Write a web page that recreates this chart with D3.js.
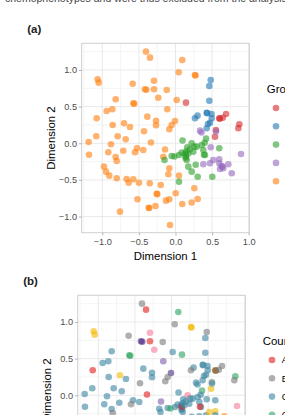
<!DOCTYPE html>
<html>
<head>
<meta charset="utf-8">
<script src="https://cdnjs.cloudflare.com/ajax/libs/d3/7.8.5/d3.min.js"></script>
<style>
html,body{margin:0;padding:0;background:#fff;overflow:hidden;}
svg{display:block;font-family:"Liberation Sans",Arial,sans-serif;}
</style>
</head>
<body>
<svg id="chart" width="285" height="415"></svg>
<script>
// ---------------- data ----------------
const dim1 = [
 -0.403,-0.348,-1.063,-1.049,-0.585,-0.417,-0.399,-0.294,-0.294,-0.120,
 -0.235,-0.817,-0.576,-0.563,-0.940,-0.863,-0.385,-0.112,-1.076,-0.858,
 -0.703,-0.622,-0.266,-0.266,-0.430,-1.082,-0.790,-0.007,-0.052,-0.085,
 -0.680,-1.186,-0.881,-0.335,-1.182,-0.918,-0.817,-0.803,-0.713,-0.526,
 -0.553,-0.440,-0.143,-0.167,-0.977,-0.949,-0.904,-0.803,-0.667,-0.639,
 -0.576,-0.499,-0.352,-0.202,-0.257,-0.249,-0.085,-0.098,0.048,0.257,
 0.003,-0.519,-0.130,-0.085,0.093,0.221,0.303,-0.366,-0.358,-0.273,
 -0.758,-0.075,0.093,0.044,0.266,0.273,0.016,
 0.481,0.462,0.462,0.426,0.433,0.492,0.301,0.266,0.495,0.471,0.444,0.426,
 0.143,0.690,0.598,0.605,0.645,0.872,0.858,0.553,0.540,
 0.335,0.355,0.553,0.481,0.380,0.471,0.516,0.598,0.598,0.631,0.639,0.608,0.653,0.721,0.768,0.895,
 0.096,0.221,0.417,0.399,0.290,0.161,0.598,0.130,0.143,0.153,0.137,0.085,0.198,0.243,-0.052,
 0.048,-0.150,0.276,0.175,0.221,0.303,0.048,0.503,0.358,0.380,0.403,0.139,0.389,0.257,-0.014,
 0.150,0.175
];
const dim2 = [
 1.250,1.168,0.873,0.827,0.813,0.737,0.730,0.854,0.737,0.727,
 0.622,0.600,0.546,0.539,0.441,0.464,0.363,0.464,0.341,0.250,
 0.273,0.222,0.308,0.246,0.164,0.096,0.096,0.304,0.250,0.191,
 0.055,0.018,-0.014,0.011,-0.156,-0.123,-0.187,-0.241,-0.101,-0.068,
 -0.123,-0.091,-0.085,-0.183,-0.319,-0.387,-0.442,-0.478,-0.487,-0.538,
 -0.491,-0.538,-0.546,-0.569,-0.688,-0.694,-0.341,-0.423,-0.442,-0.614,
 -0.682,-0.764,-0.783,-0.764,-0.828,-0.808,-0.760,-0.879,-0.883,-0.855,
 -0.933,-1.115,1.136,0.969,0.932,0.925,0.591,
 0.864,0.782,0.581,0.417,0.411,0.400,0.377,0.341,0.341,0.281,0.263,0.205,
 0.554,0.400,0.341,0.334,0.349,0.259,0.205,0.181,0.090,
 0.172,0.147,0.161,-0.055,-0.287,-0.273,-0.228,-0.218,-0.273,-0.310,-0.317,-0.351,-0.341,-0.287,-0.409,-0.146,
 0.038,0.000,0.063,0.008,-0.046,-0.055,-0.068,-0.136,-0.183,-0.228,-0.201,-0.128,-0.082,-0.115,-0.173,
 -0.160,-0.228,-0.292,-0.319,-0.387,-0.456,-0.524,-0.456,-0.023,-0.091,-0.160,-0.156,-0.156,-0.046,-0.180,
 -0.110,-0.140
];
const group = [].concat(
 Array(77).fill("E"), Array(12).fill("B"), Array(9).fill("A"),
 Array(16).fill("D"), Array(32).fill("C")
);
const country = [
 "Brazil","Argentina","Germany","Germany","Brazil","Japan","Japan","Italy","Argentina","Brazil",
 "Italy","Canada","Chile","Chile","Canada","Canada","Canada","Mexico","Argentina","Canada",
 "Germany","Canada","Canada","Canada","Brazil","Canada","Canada","Japan","Brazil","Brazil",
 "Canada","Canada","Canada","Argentina","Canada","Canada","Canada","Brazil","Canada","Canada",
 "Brazil","Canada","Mexico","Canada","Canada","Canada","Brazil","Canada","Canada","Canada",
 "Canada","Spain","Canada","Canada","Canada","Canada","Canada","Brazil","Canada","Canada",
 "Canada","Canada","Germany","Canada","Canada","Canada","Canada","Canada","Brazil","Canada",
 "Canada","Canada","Chile","Brazil","Germany","Germany","Canada",
 "Brazil","Canada","Canada","Canada","Canada","Canada","Canada","Brazil","Canada","Canada","Canada","Canada",
 "Chile","Brazil","Peru","Peru","Brazil","Chile","Brazil","France","Germany",
 "Canada","Canada","Canada","Canada","Canada","Canada","Germany","Germany","Canada","Canada","Canada","Canada","Canada","Spain","Canada","Italy",
 "Canada","Italy","Chile","Canada","Canada","Canada","Canada","Canada","Canada","Canada","Canada","Canada","Canada","Canada","Canada",
 "Canada","Canada","Canada","Canada","Canada","Canada","Canada","Canada","Canada","Canada","Canada","Argentina","Argentina","Canada","Chile",
 "Canada","Canada"
];
const groupLevels = ["A","B","C","D","E"];
const groupColors = ["#d62728","#1f77b4","#2ca02c","#9467bd","#ff7f0e"];
const countryLevels = ["Argentina","Brazil","Canada","Chile","France","Germany","Italy","Japan","Mexico","Peru","Spain"];
const countryColors = ["#e41a1c","#7a7a7a","#3a86a0","#2ca25f","#8a8a8a","#f2b800","#f67c9b","#4b2c85","#7d5daa","#8c5a1a","#ff8c00"];
const xTicks = [-1.0,-0.5,0.0,0.5,1.0];
const yTicks = [-1.0,-0.5,0.0,0.5,1.0];
const xMinor = [-1.25,-0.75,-0.25,0.25,0.75];
const yMinor = [-0.75,-0.25,0.25,0.75,1.25];

// ---------------- drawing ----------------
const svg = d3.select("#chart");
const PW = 167.6, PH = 189.4;
const fmt = d3.format(".1f");

// clipped text line from the surrounding document
svg.append("text").attr("x", 5).attr("y", 1.5)
  .attr("font-size", 10.5).attr("fill", "#444")
  .text("chemophenotypes and were thus excluded from the analysis.");

function panel(left, top, tag, colorKey, levels, colors, legendTitle) {
  const x = d3.scaleLinear().domain([-1.281, 1.008]).range([0, PW]);
  const y = d3.scaleLinear().domain([-1.22, 1.364]).range([PH, 0]);
  const col = d3.scaleOrdinal().domain(levels).range(colors);

  svg.append("text").attr("x", left - 54.5).attr("y", top - 10.8)
    .attr("font-size", 11.5).attr("font-weight", "bold").attr("fill", "#222").text(tag);

  const g = svg.append("g").attr("transform", `translate(${left},${top})`);
  g.append("rect").attr("width", PW).attr("height", PH).attr("fill", "#fff");
  // minor grid
  g.selectAll(".vmin").data(xMinor).join("line")
    .attr("x1", d => x(d)).attr("x2", d => x(d)).attr("y1", 0).attr("y2", PH)
    .attr("stroke", "#efefef").attr("stroke-width", 0.6);
  g.selectAll(".hmin").data(yMinor).join("line")
    .attr("y1", d => y(d)).attr("y2", d => y(d)).attr("x1", 0).attr("x2", PW)
    .attr("stroke", "#efefef").attr("stroke-width", 0.6);
  // major grid
  g.selectAll(".vmaj").data(xTicks).join("line")
    .attr("x1", d => x(d)).attr("x2", d => x(d)).attr("y1", 0).attr("y2", PH)
    .attr("stroke", "#e3e3e3").attr("stroke-width", 0.8);
  g.selectAll(".hmaj").data(yTicks).join("line")
    .attr("y1", d => y(d)).attr("y2", d => y(d)).attr("x1", 0).attr("x2", PW)
    .attr("stroke", "#e3e3e3").attr("stroke-width", 0.8);

  // points
  const idx = d3.range(dim1.length);
  const keyArr = colorKey === "group" ? group : country;
  g.selectAll("circle.pt").data(idx).join("circle")
    .attr("class", "pt")
    .attr("cx", i => x(dim1[i])).attr("cy", i => y(dim2[i])).attr("r", 3.3)
    .attr("fill", i => col(keyArr[i])).attr("fill-opacity", 0.6);

  // border
  g.append("rect").attr("width", PW).attr("height", PH).attr("fill", "none")
    .attr("stroke", "#cfcfcf").attr("stroke-width", 1);

  // axes
  const xa = g.append("g").attr("transform", `translate(0,${PH})`)
    .call(d3.axisBottom(x).tickValues(xTicks).tickFormat(fmt).tickSize(2.7).tickPadding(3));
  const ya = g.append("g")
    .call(d3.axisLeft(y).tickValues(yTicks).tickFormat(fmt).tickSize(2.7).tickPadding(2));
  [xa, ya].forEach(a => {
    a.select(".domain").remove();
    a.selectAll(".tick line").attr("stroke", "#b3b3b3");
    a.selectAll(".tick text").attr("fill", "#4d4d4d").attr("font-size", 9.2)
      .attr("font-family", "Liberation Sans, Arial, sans-serif");
  });

  g.append("text").attr("x", PW / 2).attr("y", PH + 27.3).attr("text-anchor", "middle")
    .attr("font-size", 11.4).attr("fill", "#000").text("Dimension 1");
  g.append("text").attr("transform", `translate(-26.7,${PH / 2}) rotate(-90)`)
    .attr("text-anchor", "middle").attr("font-size", 11.4).attr("fill", "#000").text("Dimension 2");

  // legend
  const lg = svg.append("g").attr("transform", `translate(${left + PW + 17.5},${top})`);
  lg.append("text").attr("x", 0).attr("y", 50).attr("font-size", 11.4).attr("fill", "#000").text(legendTitle);
  const items = lg.selectAll("g.item").data(levels).join("g").attr("class", "item")
    .attr("transform", (d, i) => `translate(0,${64.7 + i * 18.3})`);
  items.append("circle").attr("cx", 9.2).attr("cy", 0).attr("r", 3.3)
    .attr("fill", d => col(d)).attr("fill-opacity", 0.6);
  items.append("text").attr("x", 19).attr("y", 3.2).attr("font-size", 9.2).attr("fill", "#000").text(d => d);
}

panel(81.7, 43.3, "(a)", "group", groupLevels, groupColors, "Group");
panel(77.7, 295.3, "(b)", "country", countryLevels, countryColors, "Country");
</script>
</body>
</html>
